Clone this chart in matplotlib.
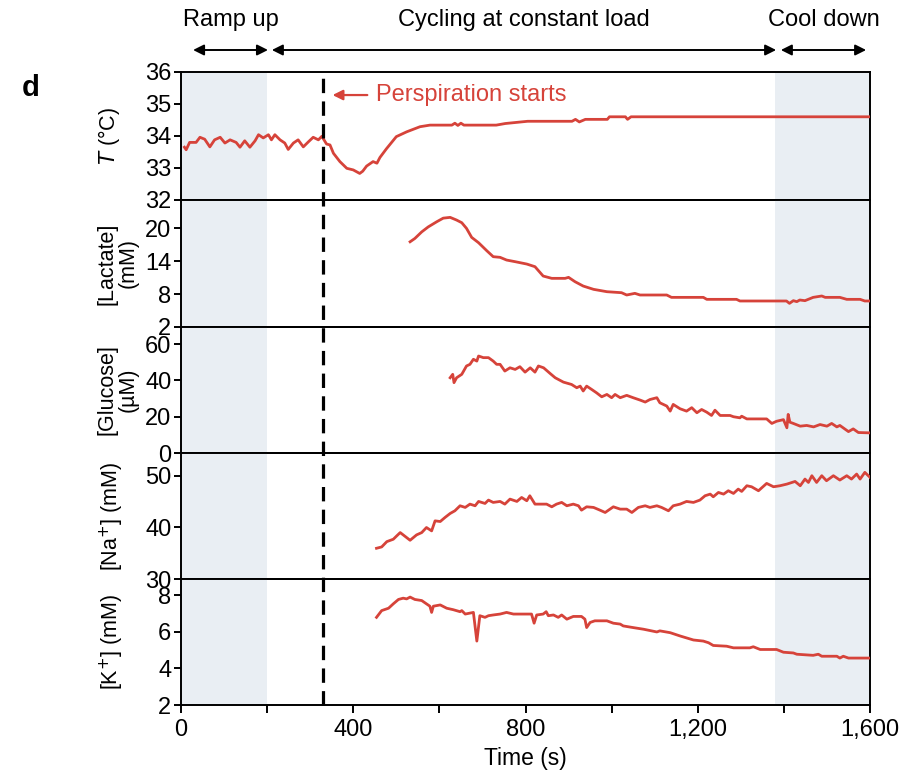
import matplotlib
matplotlib.use("Agg")
import matplotlib.pyplot as plt
import matplotlib.transforms as mtransforms
from matplotlib.lines import Line2D
from matplotlib.ticker import FuncFormatter, MultipleLocator

plt.rcParams['font.family'] = ['Liberation Sans', 'DejaVu Sans']

# Sweat sensor readings during a cycling trial
temp_t = [8, 12, 20, 35, 44, 55, 67, 78, 91, 102, 114, 128, 137, 148, 160, 172, 180, 191,
          203, 210, 218, 230, 241, 249, 261, 272, 284, 296, 307, 319, 327, 338, 346, 354,
          369, 385, 400, 415, 422, 431, 446, 455, 462, 477, 500, 524, 555, 578, 629, 636,
          643, 650, 657, 732, 753, 805, 908, 916, 925, 939, 990, 995, 1032, 1037, 1045, 1600]
temp_v = [33.65, 33.57, 33.80, 33.80, 33.96, 33.90, 33.66, 33.88, 33.96, 33.78, 33.88, 33.80,
          33.65, 33.85, 33.65, 33.85, 34.04, 33.94, 34.04, 33.88, 34.04, 33.88, 33.78, 33.58,
          33.78, 33.88, 33.66, 33.82, 33.96, 33.88, 33.99, 33.75, 33.72, 33.46, 33.20, 32.99,
          32.94, 32.83, 32.90, 33.06, 33.20, 33.15, 33.33, 33.60, 33.98, 34.13, 34.29, 34.34,
          34.34, 34.40, 34.33, 34.40, 34.34, 34.34, 34.39, 34.46, 34.46, 34.52, 34.44, 34.52,
          34.52, 34.60, 34.60, 34.52, 34.60, 34.60]

lact_t = [532, 543, 559, 574, 594, 609, 625, 640, 652, 663, 675, 691, 710, 725, 741, 756, 776,
          803, 822, 841, 861, 892, 900, 915, 934, 958, 989, 1023, 1035, 1054, 1066, 1128, 1139,
          1213, 1221, 1290, 1298, 1406, 1413, 1422, 1430, 1437, 1449, 1468, 1488, 1496, 1530,
          1546, 1577, 1588, 1600]
lact_v = [17.5, 18.1, 19.3, 20.2, 21.15, 21.8, 21.94, 21.45, 20.97, 19.94, 18.3, 17.33, 15.88,
          14.79, 14.67, 14.18, 13.88, 13.45, 12.97, 11.27, 10.85, 10.85, 11.03, 10.24, 9.45,
          8.85, 8.42, 8.24, 7.82, 8.12, 7.82, 7.82, 7.39, 7.39, 7.03, 7.03, 6.73, 6.73, 6.30,
          6.79, 6.61, 6.91, 6.79, 7.39, 7.64, 7.39, 7.39, 7.03, 7.03, 6.73, 6.73]

gluc_t = [625, 631, 634, 640, 652, 663, 671, 679, 687, 691, 702, 714, 725, 733, 741, 752, 764,
          776, 787, 799, 811, 822, 830, 842, 857, 869, 888, 907, 919, 927, 934, 942, 954, 965,
          977, 989, 1000, 1008, 1020, 1035, 1050, 1066, 1078, 1089, 1105, 1112, 1128, 1136,
          1143, 1159, 1174, 1186, 1198, 1209, 1221, 1232, 1240, 1252, 1275, 1283, 1298, 1302,
          1314, 1360, 1372, 1383, 1399, 1407, 1410, 1414, 1422, 1438, 1453, 1469, 1484, 1500,
          1511, 1523, 1530, 1550, 1561, 1573, 1600]
gluc_v = [41.5, 43.4, 38.8, 41.5, 43.4, 48.0, 48.9, 51.7, 50.7, 53.5, 52.6, 52.6, 50.7, 48.9,
          48.9, 45.2, 47.0, 46.1, 47.6, 44.6, 47.0, 44.6, 48.0, 47.0, 43.9, 41.5, 39.1, 37.8,
          36.0, 36.9, 34.2, 36.9, 35.0, 33.2, 31.0, 32.3, 30.5, 32.3, 30.5, 31.8, 30.5, 29.2,
          28.1, 29.5, 30.5, 27.7, 25.9, 23.1, 26.8, 24.4, 23.1, 25.0, 22.2, 24.0, 22.5, 20.7,
          23.6, 20.7, 20.7, 20.0, 19.4, 20.3, 18.8, 18.8, 16.3, 17.5, 18.4, 13.9, 21.3, 17.0,
          16.3, 14.8, 15.2, 14.4, 15.7, 14.8, 16.3, 14.4, 15.2, 11.8, 13.3, 11.3, 11.1]

na_t = [454, 466, 478, 493, 501, 509, 516, 532, 547, 559, 570, 582, 590, 602, 613, 625, 636,
        648, 660, 671, 683, 691, 706, 714, 725, 741, 752, 764, 780, 791, 803, 810, 822, 849,
        861, 872, 884, 896, 911, 923, 930, 942, 958, 973, 985, 1004, 1020, 1035, 1047, 1062,
        1078, 1089, 1105, 1116, 1132, 1143, 1159, 1174, 1190, 1205, 1217, 1229, 1236, 1248,
        1260, 1271, 1283, 1294, 1302, 1314, 1325, 1341, 1360, 1376, 1391, 1407, 1426, 1438,
        1449, 1457, 1465, 1476, 1488, 1499, 1515, 1530, 1546, 1557, 1569, 1577, 1588, 1600]
na_v = [35.95, 36.21, 37.24, 37.70, 38.35, 38.99, 38.54, 37.50, 38.54, 38.99, 39.97, 39.32,
        41.26, 41.13, 41.91, 42.69, 43.21, 44.18, 43.86, 44.50, 44.18, 45.02, 44.63, 45.28,
        44.83, 45.02, 44.50, 45.47, 45.02, 45.79, 45.15, 46.12, 44.50, 44.50, 43.98, 44.50,
        44.83, 44.18, 44.50, 44.18, 43.33, 43.98, 43.86, 43.33, 42.88, 43.98, 43.53, 43.53,
        42.88, 43.86, 44.18, 43.86, 44.18, 43.86, 43.21, 44.18, 44.50, 45.02, 44.83, 45.28,
        46.12, 46.44, 45.92, 46.76, 46.44, 47.09, 46.57, 47.41, 46.96, 48.06, 47.86, 47.09,
        48.51, 47.86, 48.06, 48.38, 48.89, 48.06, 49.35, 48.70, 50.00, 48.70, 50.00, 49.03,
        50.00, 49.16, 50.00, 49.35, 50.32, 49.35, 50.65, 49.68]

k_t = [454, 466, 482, 493, 505, 516, 524, 532, 543, 559, 570, 578, 582, 586, 602, 617, 632,
       648, 652, 660, 679, 687, 694, 706, 714, 725, 741, 756, 772, 814, 820, 826, 841, 848,
       853, 865, 876, 884, 896, 911, 930, 938, 942, 950, 961, 989, 1004, 1020, 1027, 1050,
       1074, 1105, 1112, 1136, 1159, 1190, 1213, 1225, 1236, 1267, 1283, 1321, 1329, 1345,
       1383, 1399, 1422, 1430, 1468, 1480, 1488, 1523, 1530, 1538, 1550, 1600]
k_v = [6.80, 7.17, 7.30, 7.54, 7.78, 7.85, 7.81, 7.91, 7.78, 7.72, 7.54, 7.41, 7.07, 7.41,
       7.48, 7.30, 7.22, 7.11, 7.17, 6.98, 7.07, 5.50, 6.89, 6.80, 6.89, 6.93, 6.98, 7.07,
       6.98, 6.98, 6.48, 6.93, 6.98, 7.11, 6.89, 6.93, 6.80, 6.93, 6.70, 6.85, 6.85, 6.70,
       6.24, 6.52, 6.61, 6.61, 6.48, 6.43, 6.33, 6.24, 6.15, 6.00, 6.06, 5.96, 5.78, 5.56,
       5.50, 5.41, 5.26, 5.22, 5.13, 5.13, 5.19, 5.04, 5.04, 4.89, 4.85, 4.78, 4.72, 4.78,
       4.67, 4.67, 4.57, 4.67, 4.57, 4.57]

ramp_end = 200
cool_start = 1380
sweat_onset = 330

red = '#d6433a'
shade = '#e9eef3'

# (times, values, y range, y ticks, label, label x position)
panels = [
    (temp_t, temp_v, (32, 36), [32, 33, 34, 35, 36], r'$T$ (°C)', -0.085),
    (lact_t, lact_v, (2, 25.1), [2, 8, 14, 20], '[Lactate]\n(mM)', -0.062),
    (gluc_t, gluc_v, (0, 69.5), [0, 20, 40, 60], '[Glucose]\n(µM)', -0.062),
    (na_t, na_v, (30, 54.4), [30, 40, 50], '[Na$^{+}$] (mM)', -0.080),
    (k_t, k_v, (2, 8.9), [2, 4, 6, 8], '[K$^{+}$] (mM)', -0.080),
]

W, H = 906, 772
fig = plt.figure(figsize=(W / 100, H / 100), dpi=100)
edges = [72, 200, 327, 453, 579, 705]
left, right = 181, 870

axes = []
for i, (tt, vv, ylim, yticks, label, lx) in enumerate(panels):
    top, bot = edges[i], edges[i + 1]
    ax = fig.add_axes([left / W, 1 - bot / H, (right - left) / W, (bot - top) / H])
    ax.axvspan(0, ramp_end, color=shade, lw=0, zorder=0)
    ax.axvspan(cool_start, 1600, color=shade, lw=0, zorder=0)
    ax.plot(tt, vv, color=red, lw=2.0, zorder=3)
    ax.set_xlim(0, 1600)
    ax.set_ylim(*ylim)
    ax.set_yticks(yticks)
    ax.tick_params(axis='y', direction='out', length=5, width=1.4, labelsize=17, pad=2)
    for s in ax.spines.values():
        s.set_linewidth(1.4)
    ax.set_ylabel(label, fontsize=15.5, linespacing=1.0)
    ax.yaxis.set_label_coords(lx, 0.5)
    if i < 4:
        ax.tick_params(axis='x', bottom=False, labelbottom=False)
    ax.patch.set_alpha(0)
    axes.append(ax)

axb = axes[-1]
axb.xaxis.set_major_locator(MultipleLocator(400))
axb.xaxis.set_minor_locator(MultipleLocator(200))
axb.xaxis.set_major_formatter(FuncFormatter(lambda v, p: f'{int(v):,}'))
axb.tick_params(axis='x', which='both', direction='out', length=6, width=1.4, labelsize=17, pad=4)
axb.set_xlabel('Time (s)', fontsize=16.5)
axb.xaxis.set_label_coords(0.5, -0.33)

# dashed marker for sweat onset spanning all panels
trans = mtransforms.blended_transform_factory(axb.transData, fig.transFigure)
fig.add_artist(Line2D([sweat_onset, sweat_onset], [1 - 705 / H, 1 - 72 / H], transform=trans,
                      color='black', lw=2.3, linestyle=(0, (4.5, 2.6)), zorder=5))

ax0 = axes[0]
ax0.annotate('Perspiration starts', xy=(352, 35.28), xytext=(452, 35.28),
             color=red, fontsize=17, va='center', ha='left',
             arrowprops=dict(arrowstyle='-|>', color=red, lw=1.6, mutation_scale=15,
                             shrinkA=4, shrinkB=0))

# phase arrows above the panels
phases = [('Ramp up', 28, 202), ('Cycling at constant load', 211, 1382), ('Cool down', 1393, 1591)]
for name, x0, x1 in phases:
    ax0.annotate('', xy=(x0, 1 - 50 / H), xytext=(x1, 1 - 50 / H), xycoords=trans, textcoords=trans,
                 arrowprops=dict(arrowstyle='<|-|>', color='black', lw=1.4, mutation_scale=16,
                                 shrinkA=0, shrinkB=0))
    fig.text((x0 + x1) / 2, 1 - 20 / H, name, transform=trans, fontsize=17,
             ha='center', va='center')

fig.text(22 / W, 1 - 88 / H, 'd', fontsize=21, fontweight='bold', ha='left', va='center')

fig.savefig('out.png', dpi=100)
